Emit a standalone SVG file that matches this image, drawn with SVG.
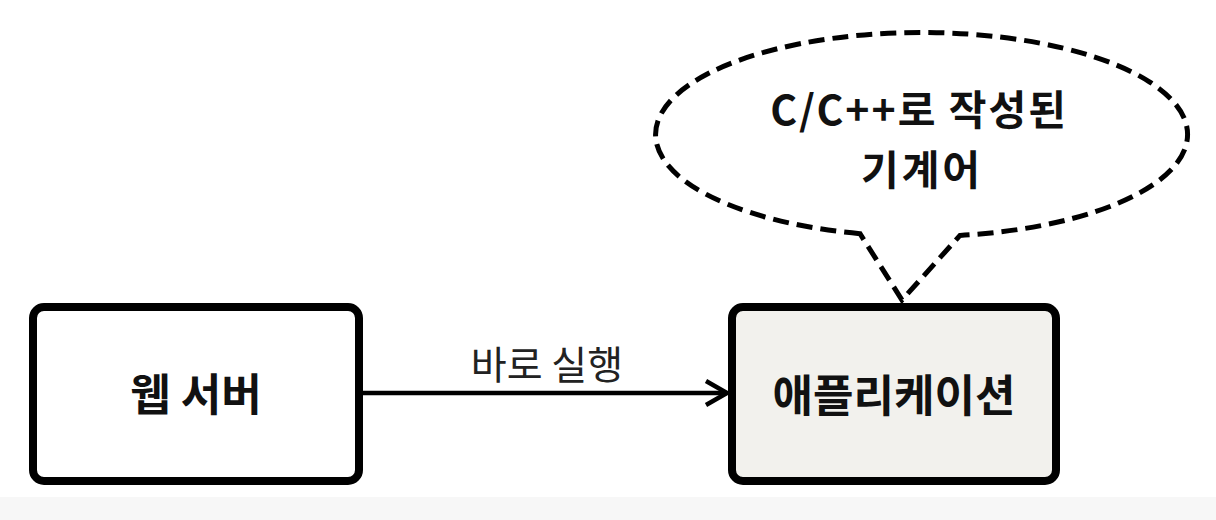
<svg xmlns="http://www.w3.org/2000/svg" width="1216" height="520" viewBox="0 0 1216 520">
  <defs>
    <marker id="chevron" markerUnits="userSpaceOnUse" markerWidth="30" markerHeight="34" refX="23" refY="14" orient="auto">
      <path d="M2,2 L23,14 L2,26" fill="none" stroke="#000" stroke-width="4.5" stroke-linejoin="miter"/>
    </marker>
  </defs>
  <style>
    .box { stroke: #000; stroke-width: 8; }
    .bold { font-family: "Noto Sans CJK KR", "Liberation Sans", sans-serif; font-weight: bold; fill: #111; text-anchor: middle; }
    .label { font-family: "Noto Sans CJK KR", "Liberation Sans", sans-serif; font-weight: normal; fill: #222; text-anchor: middle; }
    .edge { stroke: #000; stroke-width: 4.5; fill: none; }
    .callout { stroke: #000; stroke-width: 5; fill: none; stroke-dasharray: 16 8; stroke-linejoin: miter; }
  </style>
  <rect x="0" y="0" width="1216" height="520" fill="#ffffff"/>
  <rect x="0" y="497" width="1216" height="23" fill="#f7f7f7"/>

  <g id="callout">
    <path class="callout" d="M860,233.7 A266,102 0 1 1 960,235.4 L902,300 Z"/>
    <text class="bold" x="919" y="125" font-size="41" letter-spacing="2">C/C++로 작성된</text>
    <text class="bold" x="922" y="185" font-size="41" letter-spacing="3">기계어</text>
  </g>

  <g id="web-server">
    <rect class="box" x="33" y="307" width="326" height="174" rx="11" fill="#ffffff"/>
    <text class="bold" x="196" y="411" font-size="44">웹 서버</text>
  </g>

  <g id="application">
    <rect class="box" x="732" y="307" width="324" height="174" rx="11" fill="#f2f1ed"/>
    <text class="bold" x="894" y="412" font-size="44">애플리케이션</text>
  </g>

  <g id="connectors">
    <line class="edge" x1="363" y1="393" x2="727" y2="393" marker-end="url(#chevron)"/>
    <text class="label" x="547" y="379" font-size="39">바로 실행</text>
  </g>
</svg>
